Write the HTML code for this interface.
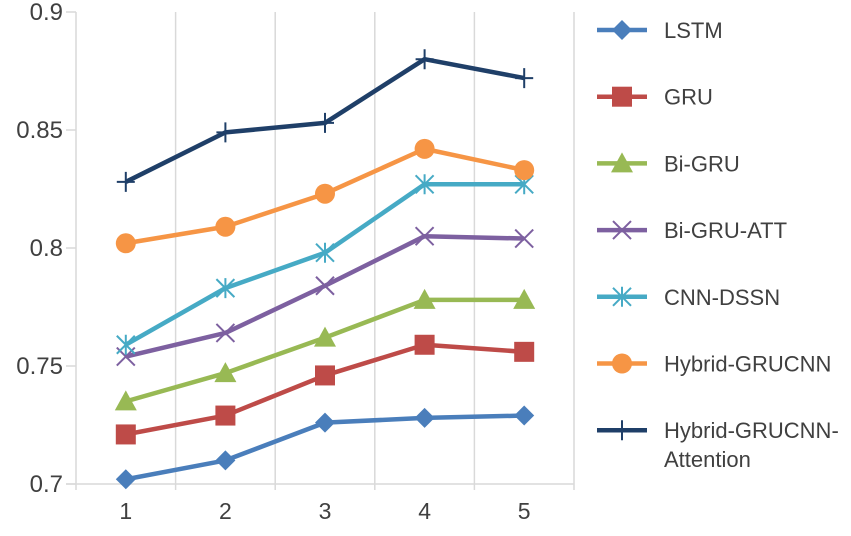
<!DOCTYPE html>
<html><head><meta charset="utf-8"><style>
body{margin:0;background:#fff;}
svg text{font-family:"Liberation Sans",sans-serif;fill:#404040;}
</style></head><body>
<svg id="chart" width="851" height="531"></svg>
<script>
const categories=["1","2","3","4","5"];
const yTicks=[0.7,0.75,0.8,0.85,0.9];
const yTickLabels=["0.7","0.75","0.8","0.85","0.9"];
const seriesNames=["LSTM","GRU","Bi-GRU","Bi-GRU-ATT","CNN-DSSN","Hybrid-GRUCNN","Hybrid-GRUCNN-Attention"];
const lstm=[0.702,0.710,0.726,0.728,0.729];
const gru=[0.721,0.729,0.746,0.759,0.756];
const biGru=[0.735,0.747,0.762,0.778,0.778];
const biGruAtt=[0.754,0.764,0.784,0.805,0.804];
const cnnDssn=[0.759,0.783,0.798,0.827,0.827];
const hybrid=[0.802,0.809,0.823,0.842,0.833];
const hybridAtt=[0.828,0.849,0.853,0.880,0.872];
const allSeries=[lstm,gru,biGru,biGruAtt,cnnDssn,hybrid,hybridAtt];
const colors=["#4a7ebb","#be4b48","#98b954","#7d60a0","#46aac5","#f69545","#1f3f68"];
const markers=["diamond","square","triangle","x","star","circle","plus"];
const NS="http://www.w3.org/2000/svg";
const svg=document.getElementById("chart");
const X0=76,X1=574,Y0=484,Y1=12;
function xs(i){return X0+(X1-X0)/categories.length*(i+0.5);}
function ys(v){return Y0-(v-0.7)/(0.2)*(Y0-Y1);}
function mk(t,a){const e=document.createElementNS(NS,t);for(const k in a)e.setAttribute(k,a[k]);svg.appendChild(e);return e;}
for(let i=0;i<=categories.length;i++){
 const gx=X0+(X1-X0)/categories.length*i;
 const g=mk("line",{x1:gx,x2:gx,y1:Y1,y2:Y0+6,stroke:"#d9d9d9","stroke-width":1.5});
 
 
}
const ax=mk("line",{x1:X0-10,x2:X1,y1:Y0,y2:Y0,stroke:"#d9d9d9","stroke-width":1.5});


yTicks.forEach((v,i)=>{
 const tk=mk("line",{x1:X0-10,x2:X0,y1:ys(v),y2:ys(v),stroke:"#d9d9d9","stroke-width":1.5});
 
 
 const t=mk("text",{x:X0-13,y:ys(v)+8,"text-anchor":"end","font-size":24});
 t.textContent=yTickLabels[i];
 
 
});
categories.forEach((c,i)=>{
 const t=mk("text",{x:xs(i),y:519,"text-anchor":"middle","font-size":23});
 t.textContent=c;
 
 
});
function marker(type,x,y,col){
 let e;
 if(type==="diamond")e=mk("path",{d:`M${x} ${y-10}L${x+10} ${y}L${x} ${y+10}L${x-10} ${y}Z`,fill:col});
 else if(type==="square")e=mk("rect",{x:x-10,y:y-10,width:20,height:20,fill:col});
 else if(type==="triangle")e=mk("path",{d:`M${x} ${y-11}L${x+11} ${y+9}L${x-11} ${y+9}Z`,fill:col});
 else if(type==="circle")e=mk("circle",{cx:x,cy:y,r:10,fill:col});
 else if(type==="x")e=mk("path",{d:`M${x-9} ${y-9}L${x+9} ${y+9}M${x-9} ${y+9}L${x+9} ${y-9}`,stroke:col,"stroke-width":2,fill:"none"});
 else if(type==="star")e=mk("path",{d:`M${x-9} ${y-9}L${x+9} ${y+9}M${x-9} ${y+9}L${x+9} ${y-9}M${x} ${y-10}L${x} ${y+10}`,stroke:col,"stroke-width":2,fill:"none"});
 else e=mk("path",{d:`M${x-9} ${y}L${x+9} ${y}M${x} ${y-10}L${x} ${y+10}`,stroke:col,"stroke-width":2,fill:"none"});
 return e;
}
allSeries.forEach((s,k)=>{
 const p=mk("polyline",{points:s.map((v,i)=>xs(i)+","+ys(v)).join(" "),fill:"none",stroke:colors[k],"stroke-width":4.5,"stroke-linejoin":"round"});
 
 
 s.forEach((v,i)=>{
  const m=marker(markers[k],xs(i),ys(v),colors[k]);
  
  
 });
 const ly=30+k*66.7;
 const ll=mk("line",{x1:597,x2:647,y1:ly,y2:ly,stroke:colors[k],"stroke-width":4.5});
 
 
 const lm=marker(markers[k],622,ly,colors[k]);
 
 
 const t=mk("text",{x:664,y:ly+8,"font-size":22});
 
 
 if(k===6){t.textContent="Hybrid-GRUCNN-";const t2=mk("text",{x:664,y:ly+37,"font-size":22});t2.textContent="Attention";
  
  }
 else t.textContent=seriesNames[k];
});
</script>
</body></html>
